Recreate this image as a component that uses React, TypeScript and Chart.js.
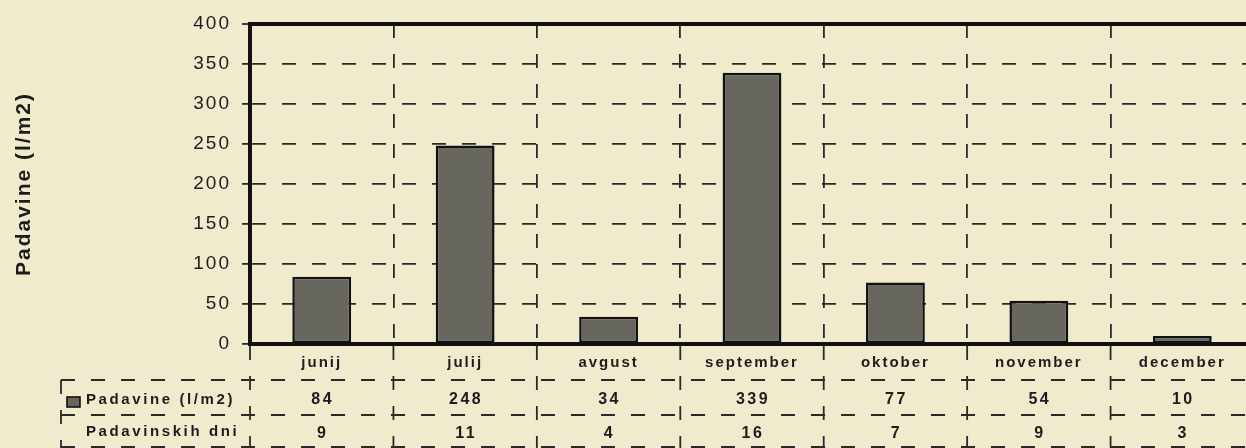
import React, { useEffect, useRef } from 'react';
import { Chart, registerables } from 'chart.js';

Chart.register(...registerables);

// ---- data ----
const categories = ['junij', 'julij', 'avgust', 'september', 'oktober', 'november', 'december'];
const precipitation = [84, 248, 34, 339, 77, 54, 10];
const rainyDays = [9, 11, 4, 16, 7, 9, 3];
const yTickValues = [0, 50, 100, 150, 200, 250, 300, 350, 400];
const seriesLabel = 'Padavine (l/m2)';
const daysLabel = 'Padavinskih dni';
const yAxisTitle = 'Padavine (l/m2)';

// ---- style ----
const FONT = '"Liberation Sans", Arial, Helvetica, sans-serif';
const PAPER = '#f1ebcd';
const INK = '#1c1c1c';
const GRID = '#2a2a2a';
const BAR = '#67665f';
const DASH = [14, 16];

const spacingPlugin = {
  id: 'letterSpacing',
  beforeUpdate(chart: any) {
    (chart.ctx as any).letterSpacing = '2px';
  },
  beforeDraw(chart: any) {
    (chart.ctx as any).letterSpacing = '2px';
  },
};

const tablePlugin = {
  id: 'dataTable',
  afterDraw(chart: any) {
    const ctx = chart.ctx as CanvasRenderingContext2D;
    const xs = chart.scales.x;
    const area = chart.chartArea;
    const n = categories.length;
    const centers = categories.map((_, i) => xs.getPixelForValue(i));
    const half = (centers[1] - centers[0]) / 2;
    const bounds: number[] = [];
    for (let i = 0; i <= n; i++) bounds.push(i < n ? centers[i] - half : centers[n - 1] + half);

    const W = chart.width;
    const H = chart.height;
    const left = 61;
    const rowTop = area.bottom + 36;
    const rowH = 35;
    const rows = [rowTop, rowTop + rowH, rowTop + rowH * 2 - 3];

    ctx.save();
    ctx.strokeStyle = GRID;
    ctx.lineWidth = 1.8;
    ctx.setLineDash(DASH);
    // horizontal table lines
    rows.forEach((y) => {
      ctx.beginPath();
      ctx.moveTo(left, y);
      ctx.lineTo(W, y);
      ctx.stroke();
    });
    // left border
    ctx.beginPath();
    ctx.moveTo(left, rowTop);
    ctx.lineTo(left, H);
    ctx.stroke();
    // vertical lines at category boundaries
    bounds.forEach((bx) => {
      ctx.beginPath();
      ctx.moveTo(bx, area.bottom + 2);
      ctx.lineTo(bx, H);
      ctx.stroke();
    });
    ctx.setLineDash([]);

    // legend box
    ctx.fillStyle = BAR;
    ctx.fillRect(67, rowTop + 17, 13, 10);
    ctx.strokeStyle = '#111';
    ctx.lineWidth = 1.6;
    ctx.strokeRect(67, rowTop + 17, 13, 10);

    // row labels
    (ctx as any).letterSpacing = '2.6px';
    ctx.fillStyle = INK;
    ctx.font = `bold 15px ${FONT}`;
    ctx.textAlign = 'left';
    ctx.textBaseline = 'middle';
    ctx.fillText(seriesLabel, 86, rowTop + 20);
    ctx.fillText(daysLabel, 86, rowTop + rowH + 17);

    // values
    (ctx as any).letterSpacing = '2.5px';
    ctx.font = `bold 16px ${FONT}`;
    ctx.textAlign = 'center';
    centers.forEach((cx, i) => {
      ctx.fillText(String(precipitation[i]), cx + 1, rowTop + 20);
      ctx.fillText(String(rainyDays[i]), cx + 1, rowTop + rowH + 19);
    });
    ctx.restore();
  },
};

export default function App() {
  const canvasRef = useRef<HTMLCanvasElement | null>(null);

  useEffect(() => {
    if (!canvasRef.current) return;
    Chart.defaults.font.family = FONT;
    const chart = new Chart(canvasRef.current, {
      type: 'bar',
      data: {
        labels: categories,
        datasets: [
          {
            label: seriesLabel,
            data: precipitation,
            backgroundColor: BAR,
            borderColor: '#111',
            borderWidth: 2.5,
            borderSkipped: false,
            barPercentage: 0.41,
            categoryPercentage: 1,
          },
        ],
      },
      options: {
        animation: false,
        responsive: false,
        maintainAspectRatio: false,
        layout: { padding: { top: 24, right: 6, left: 0, bottom: 0 } },
        plugins: {
          legend: { display: false },
          tooltip: { enabled: false },
        },
        scales: {
          x: {
            offset: true,
            grid: {
              offset: true,
              color: GRID,
              lineWidth: 1.8,
              drawTicks: false,
            },
            border: { display: true, color: '#111', width: 4, dash: DASH },
            ticks: {
              font: { family: FONT, size: 15, weight: 'bold' },
              color: INK,
              padding: 10,
            },
            afterFit: (s: any) => {
              s.height = 104;
            },
          },
          y: {
            min: 0,
            max: 400,
            afterBuildTicks: (s: any) => {
              s.ticks = yTickValues.map((v) => ({ value: v }));
            },
            ticks: {
              font: { family: FONT, size: 19 },
              color: INK,
              padding: 11,
            },
            grid: {
              color: (c: any) => (c.tick && c.tick.value === 400 ? '#111' : GRID),
              lineWidth: (c: any) => (c.tick && c.tick.value === 400 ? 4 : 1.8),
              tickLength: 8,
              tickWidth: 1.8,
              tickColor: GRID,
            },
            border: {
              display: true,
              color: '#111',
              width: 4,
              dash: (c: any) => (c.tick && c.tick.value === 400 ? [] : DASH),
            },
            title: {
              display: true,
              text: yAxisTitle,
              color: INK,
              font: { family: FONT, size: 21, weight: 'bold' },
              padding: { top: 12, bottom: 0 },
            },
            afterFit: (s: any) => {
              s.width = 250;
            },
          },
        },
      } as any,
      plugins: [spacingPlugin, tablePlugin],
    });
    return () => chart.destroy();
  }, []);

  return (
    <div
      style={{
        position: 'fixed',
        left: 0,
        top: 0,
        width: 1246,
        height: 448,
        overflow: 'hidden',
        background: PAPER,
      }}
    >
      <canvas ref={canvasRef} width={1260} height={448} style={{ display: 'block', width: 1260, height: 448 }} />
    </div>
  );
}
